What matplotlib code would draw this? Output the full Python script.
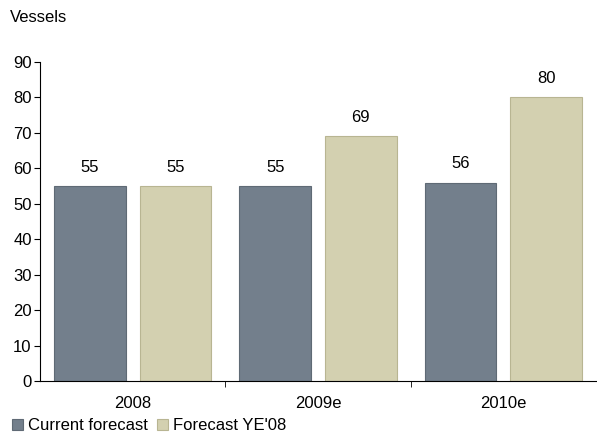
import matplotlib
matplotlib.use("Agg")
import matplotlib.pyplot as plt
import numpy as np

plt.rcParams['font.family'] = ['Liberation Sans', 'DejaVu Sans']

categories = ["2008", "2009e", "2010e"]
current = [55, 55, 56]
forecast_ye08 = [55, 69, 80]

fig = plt.figure(figsize=(5.97, 4.33), dpi=100)
ax = fig.add_axes([40/597, 1-381/433, 556/597, (381-62)/433])

x = np.arange(len(categories))
w = 0.387
off = 0.231
b1 = ax.bar(x - off, current, w, color="#737f8c", edgecolor="#5f6a75", linewidth=0.8, label="Current forecast")
b2 = ax.bar(x + off, forecast_ye08, w, color="#d3d0b0", edgecolor="#b8b592", linewidth=0.8, label="Forecast YE'08")

for bars in (b1, b2):
    for r in bars:
        ax.text(r.get_x() + r.get_width()/2, r.get_height() + 3.2, f"{r.get_height():.0f}",
                ha="center", va="bottom", fontsize=12)

ax.set_xlim(-0.5, 2.5)
ax.set_ylim(0, 90)
ax.set_yticks(range(0, 91, 10))
ax.tick_params(axis="y", labelsize=12, length=4, direction="out", pad=2)
ax.set_xticks(x)
ax.set_xticklabels(categories, fontsize=12)
ax.tick_params(axis="x", length=0, pad=11)
ax.set_xticks([0.5, 1.5], minor=True)
ax.tick_params(axis="x", which="minor", length=4, direction="out")
for s in ("top", "right"):
    ax.spines[s].set_visible(False)

fig.text(10/597, 1-18/433, "Vessels", fontsize=12, va="center")

fig.legend(loc="lower left", bbox_to_anchor=(0.014, -0.008), ncol=2, frameon=True,
           edgecolor="none", facecolor="white", framealpha=1, fontsize=12,
           handlelength=0.65, handleheight=0.65, handletextpad=0.3, columnspacing=0.6,
           borderpad=0.2, borderaxespad=0)

fig.savefig("out.png", dpi=100)
